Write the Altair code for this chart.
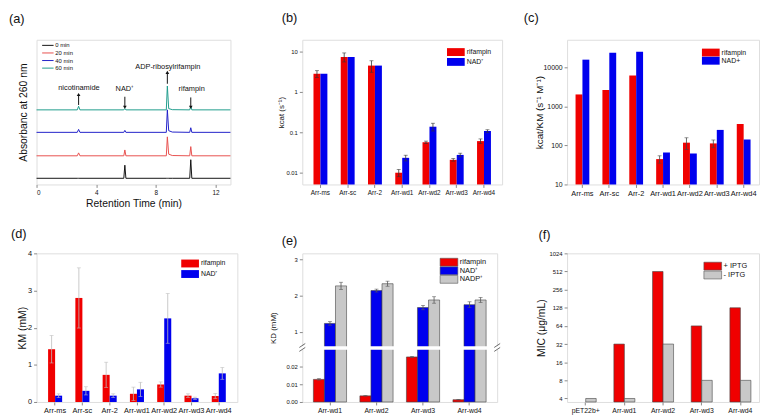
import altair as alt
import pandas as pd

FONT = "Liberation Sans"
RED = "#f00000"
BLUE = "#0000ee"
GRAY = "#c8c8c8"
FRAME = "#555555"
INK = "#111111"

# ---------------- (a) HPLC chromatograms (arbitrary units) ----------------
trace_labels = ["0 min", "20 min", "40 min", "60 min"]
trace_colors = ["#111111", "#e8504e", "#2020c8", "#1f9c8c"]
trace_times = [0, 2.73, 2.82, 2.91, 5.85, 5.92, 5.99, 8.70, 8.77, 8.86, 9.10, 10.27, 10.34, 10.41, 13]
trace_0 = [6.3, 6.3, 6.3, 6.3, 6.3, 19.7, 6.3, 6.3, 6.3, 6.3, 6.3, 6.3, 25.3, 6.3, 6.3]
trace_20 = [29.3, 29.3, 32.3, 29.3, 29.3, 35.3, 29.3, 29.3, 48.7, 31.0, 29.6, 29.3, 38.7, 29.3, 29.3]
trace_40 = [53.3, 53.3, 56.3, 53.3, 53.3, 55.3, 53.3, 53.3, 76.3, 55.0, 53.6, 53.3, 58.0, 53.3, 53.3]
trace_60 = [76.3, 76.3, 80.0, 76.3, 76.3, 77.7, 76.3, 76.3, 100.7, 77.6, 76.5, 76.3, 80.0, 76.3, 76.3]
a_xticks = [0, 2, 4, 6, 8, 10, 12]

ann_text = ["nicotinamide", "NAD⁺", "ADP-ribosylrifampin", "rifampin"]
ann_text_x = [2.84, 5.92, 8.8, 10.4]
ann_text_y = [98.7, 97.7, 120.3, 98.0]
ann_arrow_x = [2.82, 5.92, 8.77, 10.34]
ann_tail_y = [81.3, 89.7, 103.0, 89.0]
ann_head_y = [92.0, 79.0, 114.7, 79.0]
ann_dir = ["up", "down", "up", "down"]

# ---------------- (b)(c)(d) kinetics ----------------
kin_cats = ["Arr-ms", "Arr-sc", "Arr-2", "Arr-wd1", "Arr-wd2", "Arr-wd3", "Arr-wd4"]
kin_series = ["rifampin", "NAD⁺"]

kcat_rif = [2.85, 7.5, 4.55, 0.0098, 0.056, 0.0205, 0.060]
kcat_rif_err = [0.55, 1.9, 1.45, 0.002, 0.004, 0.0015, 0.008]
kcat_nad = [2.85, 7.5, 4.55, 0.023, 0.137, 0.0272, 0.107]
kcat_nad_err = [0, 0, 0, 0.0037, 0.030, 0.0028, 0.008]

eff_series = ["rifampin", "NAD+"]
eff_rif = [2000, 2600, 6100, 44.5, 117, 112, 351]
eff_rif_err = [0, 0, 0, 9.5, 39, 25, 0]
eff_nad = [15500, 23300, 24700, 65.6, 61.8, 248, 141]
eff_nad_err = [0, 0, 0, 0, 0, 0, 0]

km_rif = [1.42, 2.80, 0.73, 0.22, 0.47, 0.17, 0.16]
km_rif_err = [0.37, 0.81, 0.34, 0.18, 0.07, 0.05, 0.07]
km_nad = [0.17, 0.30, 0.17, 0.34, 2.25, 0.10, 0.77]
km_nad_err = [0.05, 0.11, 0.05, 0.19, 0.67, 0.03, 0.16]

# ---------------- (e) binding constants ----------------
kd_cats = ["Arr-wd1", "Arr-wd2", "Arr-wd3", "Arr-wd4"]
kd_series = ["rifampin", "NAD⁺", "NADP⁺"]
kd_rif = [0.0129, 0.0035, 0.0257, 0.0013]
kd_rif_err = [0.0004, 0.0001, 0.0003, 0.0001]
kd_nad = [1.23, 2.14, 1.67, 1.75]
kd_nad_err = [0.05, 0.04, 0.06, 0.08]
kd_nadp = [2.27, 2.33, 1.88, 1.88]
kd_nadp_err = [0.10, 0.07, 0.09, 0.07]
kd_ticks = [0, 0.01, 0.02, 1, 2, 3]

# ---------------- (f) MIC ----------------
mic_cats = ["pET22b+", "Arr-wd1", "Arr-wd2", "Arr-wd3", "Arr-wd4"]
mic_series = ["+ IPTG", "- IPTG"]
mic_plus = [None, 32, 512, 64, 128]
mic_minus = [4, 4, 32, 8, 8]
mic_ticks = [4, 8, 16, 32, 64, 128, 256, 512, 1024]


def bar_frame(cats, series, vals, errs):
    rows = []
    for s, vs, es in zip(series, vals, errs):
        for c, v, e in zip(cats, vs, es):
            if v is None:
                continue
            rows.append({"cat": c, "series": s, "v": v, "lo": v - e, "hi": v + e, "err": e})
    return pd.DataFrame(rows)


def legend_boxes(labels, colors, w, right, y0, pitch, fs, sw_w=18, sw_h=8, stroke=None):
    layers = []
    x1 = w - right
    for i, (lab, col) in enumerate(zip(labels, colors)):
        src = alt.Chart(pd.DataFrame({"t": [lab]}))
        y = y0 + i * pitch
        kw = dict(fill=col)
        if stroke:
            kw.update(stroke=stroke, strokeWidth=0.6)
        layers.append(src.mark_rect(**kw).encode(
            x=alt.value(x1), x2=alt.value(x1 + sw_w), y=alt.value(y), y2=alt.value(y + sw_h)))
        layers.append(src.mark_text(align="left", baseline="middle", fontSize=fs, font=FONT, color=INK).encode(
            x=alt.value(x1 + sw_w + 2), y=alt.value(y + sw_h / 2), text="t:N"))
    return layers


def y_axis(title, tx, fs_title, fs_lab, **kw):
    return alt.Axis(title=title, titleX=tx, titleAngle=270, titleBaseline="middle", titleAlign="center",
                    titleFontSize=fs_title, titleFont=FONT, titleFontWeight="normal", titleColor=INK,
                    labelFontSize=fs_lab, labelFont=FONT, labelColor=INK, labelPadding=2, tickSize=3,
                    domain=False, grid=False, **kw)


def panel_title(txt, dx, offset):
    return alt.TitleParams(txt, anchor="start", dx=dx, offset=offset, fontSize=13, fontWeight="normal",
                           font=FONT, color=INK, frame="group")


def bar_panel(df, cats, series, colors, w, h, yscale, yaxis, pad_in, pad_out, cat_fs, err_color,
              bar_stroke=None, calc=None, yf="v", lof="lo", hif="hi", cap=4):
    base = alt.Chart(df)
    if calc:
        base = base.transform_calculate(**calc)
    x = alt.X("cat:N", sort=cats, scale=alt.Scale(domain=cats, paddingInner=pad_in, paddingOuter=pad_out),
              axis=alt.Axis(title=None, labelAngle=0, labelFontSize=cat_fs, labelFont=FONT, labelColor=INK,
                            labelPadding=2, tickSize=3, labelOverlap=False, domain=False))
    xo = alt.XOffset("series:N", scale=alt.Scale(domain=series, paddingInner=0, paddingOuter=0))
    col = alt.Color("series:N", scale=alt.Scale(domain=series, range=colors), legend=None)
    bkw = dict(stroke=bar_stroke, strokeWidth=0.6) if bar_stroke else {}
    bars = base.mark_bar(**bkw).encode(
        x=x, xOffset=xo, y=alt.Y(f"{yf}:Q", scale=yscale, axis=yaxis, stack=None),
        y2=alt.value(h), color=col)
    eb = base.transform_filter("datum.err > 0")
    rule = eb.mark_rule(color=err_color, strokeWidth=0.8).encode(
        x=x, xOffset=xo, y=alt.Y(f"{lof}:Q", scale=yscale, axis=yaxis), y2=f"{hif}:Q")
    cap_hi = eb.mark_tick(color=err_color, thickness=0.8, size=cap).encode(
        x=x, xOffset=xo, y=alt.Y(f"{hif}:Q", scale=yscale, axis=yaxis))
    cap_lo = eb.mark_tick(color=err_color, thickness=0.8, size=cap).encode(
        x=x, xOffset=xo, y=alt.Y(f"{lof}:Q", scale=yscale, axis=yaxis))
    return [bars, rule, cap_hi, cap_lo]


# ======================= panel (a) =======================
WA, HA = 197, 147
a_rows = []
for lab, ys in zip(trace_labels, [trace_0, trace_20, trace_40, trace_60]):
    for t, y in zip(trace_times, ys):
        a_rows.append({"t": t, "y": y, "trace": lab})
a_df = pd.DataFrame(a_rows)
a_scale_x = alt.Scale(domain=[0, 13], nice=False)
a_scale_y = alt.Scale(domain=[0, 148], nice=False)
a_x_axis = alt.Axis(values=a_xticks, format="d", title="Retention Time (min)", titleFontSize=10.5,
                    titleFont=FONT, titleFontWeight="normal", titleColor=INK, titleY=19, titleX=WA / 2,
                    titleBaseline="middle", titleAlign="center",
                    labelFontSize=6.5, labelFont=FONT, labelColor=INK, labelPadding=2, tickSize=3,
                    domain=False, grid=False)
a_y_axis = y_axis("Absorbanc at 260 nm", -13, 10.5, 6, labels=False, ticks=False)

a_lines = alt.Chart(a_df).mark_line(strokeWidth=1).encode(
    x=alt.X("t:Q", scale=a_scale_x, axis=a_x_axis),
    y=alt.Y("y:Q", scale=a_scale_y, axis=a_y_axis),
    color=alt.Color("trace:N", scale=alt.Scale(domain=trace_labels, range=trace_colors), legend=None),
)
ann_df = pd.DataFrame({"label": ann_text, "tx": ann_text_x, "ty": ann_text_y, "ax": ann_arrow_x,
                       "tail": ann_tail_y, "head": ann_head_y, "dir": ann_dir})
ann_base = alt.Chart(ann_df)
a_text = ann_base.mark_text(fontSize=7.5, font=FONT, color=INK, baseline="middle").encode(
    x=alt.X("tx:Q", scale=a_scale_x), y=alt.Y("ty:Q", scale=a_scale_y), text="label:N")
a_shaft = ann_base.mark_rule(color=INK, strokeWidth=1).encode(
    x=alt.X("ax:Q", scale=a_scale_x), y=alt.Y("tail:Q", scale=a_scale_y), y2="head:Q")
a_head = ann_base.mark_point(filled=True, color=INK, size=14, opacity=1).encode(
    x=alt.X("ax:Q", scale=a_scale_x), y=alt.Y("head:Q", scale=a_scale_y),
    shape=alt.Shape("dir:N", scale=alt.Scale(domain=["up", "down"], range=["triangle-up", "triangle-down"]),
                    legend=None))
a_leg = []
for i, (lab, col) in enumerate(zip(trace_labels, trace_colors)):
    src = alt.Chart(pd.DataFrame({"t": [lab]}))
    yy = 5.7 + 7.7 * i
    a_leg.append(src.mark_rule(color=col, strokeWidth=1).encode(x=alt.value(5.7), x2=alt.value(17.3), y=alt.value(yy)))
    a_leg.append(src.mark_text(align="left", baseline="middle", fontSize=6, font=FONT, color=INK).encode(
        x=alt.value(19), y=alt.value(yy), text="t:N"))
panel_a = alt.layer(a_lines, a_shaft, a_head, a_text, *a_leg).properties(
    width=WA, height=HA, title=panel_title("(a)", -28, 14))

# ======================= panel (b) =======================
WB, HB = 203, 147
b_df = bar_frame(kin_cats, kin_series, [kcat_rif, kcat_nad], [kcat_rif_err, kcat_nad_err])
b_scale = alt.Scale(type="log", domain=[0.005, 20], nice=False)
b_axis = y_axis("kcat (s⁻¹)", -21, 8, 6, values=[0.01, 0.1, 1, 10], format="~g")
b_layers = bar_panel(b_df, kin_cats, kin_series, [RED, BLUE], WB, HB, b_scale, b_axis, 0.49, 0.41, 6.5, "#333333")
panel_b = alt.layer(*b_layers, *legend_boxes(kin_series, [RED, BLUE], WB, 56, 8.5, 10, 7)).properties(
    width=WB, height=HB, title=panel_title("(b)", -21, 15))

# ======================= panel (c) =======================
WC, HC = 195, 147
c_df = bar_frame(kin_cats, eff_series, [eff_rif, eff_nad], [eff_rif_err, eff_nad_err])
c_scale = alt.Scale(type="log", domain=[10, 50000], nice=False)
c_axis = y_axis("kcat/KM (s⁻¹ M⁻¹)", -28, 10, 7, values=[10, 100, 1000, 10000], format="d")
c_layers = bar_panel(c_df, kin_cats, eff_series, [RED, BLUE], WC, HC, c_scale, c_axis, 0.487, 0.315, 7.5, "#444444")
panel_c = alt.layer(*c_layers, *legend_boxes(eff_series, [RED, BLUE], WC, 58, 9, 8.3, 7)).properties(
    width=WC, height=HC, title=panel_title("(c)", -44, 15))

# ======================= panel (d) =======================
WD, HD = 204, 151
d_df = bar_frame(kin_cats, kin_series, [km_rif, km_nad], [km_rif_err, km_nad_err])
d_scale = alt.Scale(domain=[0, 4], nice=False)
d_axis = y_axis("KM (mM)", -14, 10.5, 7.5, values=[0, 1, 2, 3, 4], format="d")
d_layers = bar_panel(d_df, kin_cats, kin_series, [RED, BLUE], WD, HD, d_scale, d_axis, 0.485, 0.423, 7.5, "#bdbdbd")
panel_d = alt.layer(*d_layers, *legend_boxes(kin_series, [RED, BLUE], WD, 57, 6.3, 10.7, 7)).properties(
    width=WD, height=HD, title=panel_title("(d)", -26, 9))

# ======================= panel (e) =======================
WE, HE = 198, 151


def brk(f):
    return f"datum.{f} <= 0.03 ? datum.{f} / 0.01 * 17.8 : 56.3 + (datum.{f} - 0.59) * 36.7"


def brk_py(v):
    return v / 0.01 * 17.8 if v <= 0.03 else 56.3 + (v - 0.59) * 36.7


e_df = bar_frame(kd_cats, kd_series, [kd_rif, kd_nad, kd_nadp], [kd_rif_err, kd_nad_err, kd_nadp_err])
e_scale = alt.Scale(domain=[0, 151], nice=False)
e_axis = y_axis("KD (mM)", -29, 8, 6, values=[brk_py(v) for v in kd_ticks],
                labelExpr="datum.value < 55 ? format(datum.value / 1780, '.2f') : format((datum.value - 56.3) / 36.7 + 0.59, '.0f')")
e_layers = bar_panel(e_df, kd_cats, kd_series, [RED, BLUE, GRAY], WE, HE, e_scale, e_axis, 0.287, 0.238, 7,
                     "#555555", bar_stroke="#444444",
                     calc={"yd": brk("v"), "lod": brk("lo"), "hid": brk("hi")}, yf="yd", lof="lod", hif="hid", cap=4)
one = alt.Chart(pd.DataFrame({"k": [0]}))
e_band = one.mark_rect(fill="white").encode(x=alt.value(-4), x2=alt.value(WE + 4), y=alt.value(94.4), y2=alt.value(97.9))
e_breaks = []
for xe in [0, WE]:
    for yb in [93.6, 97.6]:
        e_breaks.append(one.mark_rule(color="#444444", strokeWidth=0.8).encode(
            x=alt.value(xe - 3), x2=alt.value(xe + 3), y=alt.value(yb + 2), y2=alt.value(yb - 2)))
panel_e = alt.layer(*e_layers, e_band, *e_breaks,
                    *legend_boxes(kd_series, [RED, BLUE, GRAY], WE, 58, 5, 8.7, 7.5, stroke="#555555")).properties(
    width=WE, height=HE, title=panel_title("(e)", -21, 5))

# ======================= panel (f) =======================
WF, HF = 195, 151
f_df = bar_frame(mic_cats, mic_series, [mic_plus, mic_minus], [[0] * 5, [0] * 5])
f_scale = alt.Scale(type="log", base=2, domain=[3.5, 1024], nice=False)
f_axis = y_axis("MIC (μg/mL)", -26, 10.5, 6, values=mic_ticks, format="d")
f_layers = bar_panel(f_df, mic_cats, mic_series, [RED, GRAY], WF, HF, f_scale, f_axis, 0.457, 0.21, 7,
                     "#444444", bar_stroke="#444444")
panel_f = alt.layer(*f_layers, *legend_boxes(mic_series, [RED, GRAY], WF, 56, 9, 9, 7.5, stroke="#555555")).properties(
    width=WF, height=HF, title=panel_title("(f)", -29, 9))

chart = alt.concat(panel_a, panel_b, panel_c, panel_d, panel_e, panel_f, columns=3,
                   spacing={"row": 70, "column": 66}, bounds="flush", align="none").resolve_scale(
    color="independent", xOffset="independent", shape="independent"
).properties(
    padding=0, background="white"
).configure_view(stroke=FRAME, strokeWidth=1).configure(font=FONT)

chart.save("out.html", embed_options={"renderer": "svg", "actions": False})
